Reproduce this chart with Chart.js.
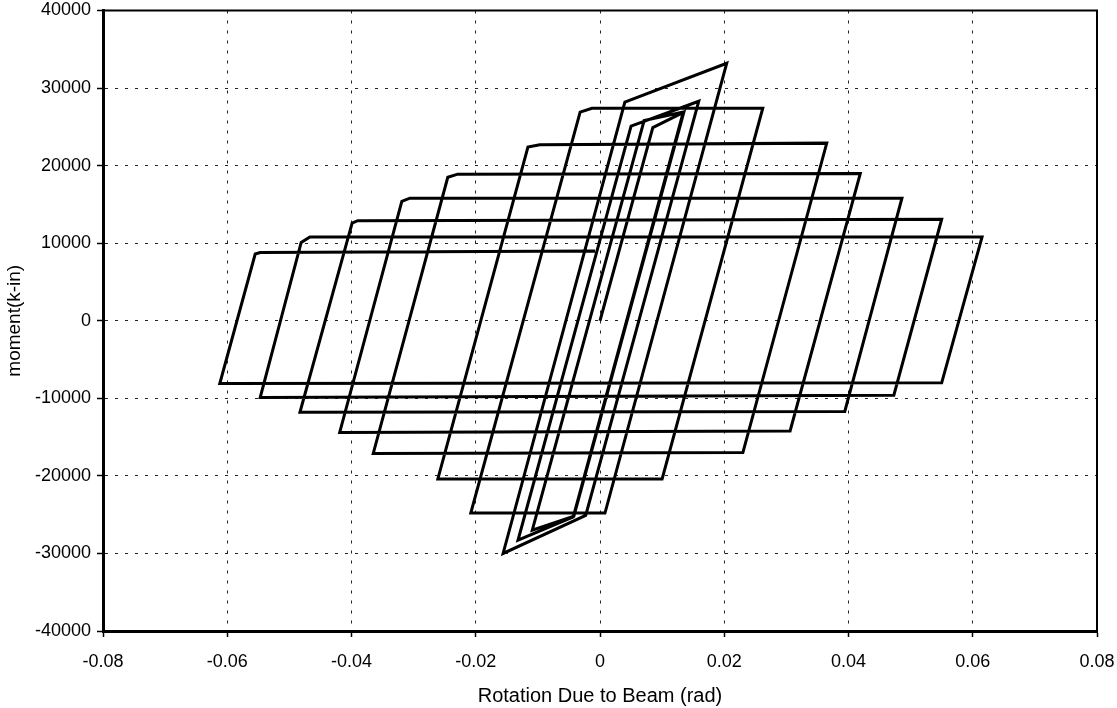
<!DOCTYPE html>
<html>
<head>
<meta charset="utf-8">
<script src="https://cdn.jsdelivr.net/npm/chart.js@4/dist/chart.umd.min.js"></script>
<style>
  html, body { margin: 0; padding: 0; background: #fff; }
  #wrap { width: 1117px; height: 708px; }
</style>
</head>
<body>
<div id="wrap"><canvas id="loopChart"></canvas></div>
<script>
// hysteresis path
const rotation = [
    0, 0.0085, 0.0135, -0.0042, -0.0109, 0.0071, 0.0134, -0.0043, -0.0132,
    0.0050, 0.0159, -0.0023, -0.0156, 0.0040, 0.0204, 0.0008, -0.0208,
    -0.0032, -0.0013, 0.0262, 0.0100, -0.0261, -0.0116, -0.0097, 0.0365,
    0.0230, -0.0365, -0.0245, -0.0229, 0.0419, 0.0306, -0.0419, -0.0319,
    -0.0306, 0.0486, 0.0394, -0.0483, -0.0399, -0.0390, 0.0550, 0.0473,
    -0.0547, -0.0481, -0.0467, 0.0615, 0.0550, -0.0612, -0.0555, -0.0547,
    -0.0008
];
const moment = [
    0, 24900, 26900, -25200, -27000, 25800, 26900, -25300, -28300,
    25100, 28300, -25100, -30000, 28200, 33200, -24800, -24800,
    26900, 27400, 27400, -20400, -20400, 22400, 22700, 22900,
    -17000, -17100, 18500, 18900, 19000, -14200, -14400, 15400,
    15800, 15800, -11700, -11800, 12600, 12900, 13100, -9600,
    -9900, 10100, 10800, 10800, -8000, -8100, 8600, 8800,
    9000
];

const xTicks = [-0.08, -0.06, -0.04, -0.02, 0, 0.02, 0.04, 0.06, 0.08];
const yTicks = [-40000, -30000, -20000, -10000, 0, 10000, 20000, 30000, 40000];

const points = rotation.map((r, i) => ({ x: r, y: moment[i] }));

const FONT = '"Liberation Sans", Arial, Helvetica, sans-serif';

// frame round the plot area (top and right edges too)
const framePlugin = {
    id: 'frame',
    afterDraw(chart) {
        const a = chart.chartArea;
        const ctx = chart.ctx;
        ctx.save();
        ctx.strokeStyle = '#000';
        ctx.lineWidth = 2;
        ctx.strokeRect(a.left, a.top, a.right - a.left, a.bottom - a.top);
        ctx.restore();
    }
};

const ctx = document.getElementById('loopChart').getContext('2d');
new Chart(ctx, {
    type: 'scatter',
    data: {
        datasets: [{
            data: points,
            showLine: true,
            borderColor: '#000',
            borderWidth: 3,
            pointRadius: 0,
            tension: 0,
            fill: false
        }]
    },
    options: {
        responsive: true,
        maintainAspectRatio: false,
        animation: false,
        layout: { padding: { top: 0, right: 0, left: 0, bottom: 0 } },
        plugins: {
            legend: { display: false },
            tooltip: { enabled: false }
        },
        scales: {
            x: {
                type: 'linear',
                min: -0.08,
                max: 0.08,
                afterBuildTicks: (scale) => { scale.ticks = xTicks.map(v => ({ value: v })); },
                afterFit: (scale) => {
                    scale.height = 77;
                    scale.paddingRight = 20;  // let "0.08" hang past the frame like the original
                },
                ticks: {
                    color: '#000',
                    font: { family: FONT, size: 18 },
                    padding: 14,
                    maxRotation: 0,
                    callback: (value) => String(Number(value.toFixed(2)))
                },
                grid: {
                    color: '#222',
                    lineWidth: 1,
                    tickColor: '#000',
                    tickLength: 6,
                    tickWidth: 1.5
                },
                border: { display: true, color: '#000', width: 3, dash: [3, 7] },
                title: {
                    display: true,
                    text: 'Rotation Due to Beam (rad)',
                    color: '#000',
                    font: { family: FONT, size: 20 },
                    padding: { top: 4, bottom: 0 }
                }
            },
            y: {
                type: 'linear',
                min: -40000,
                max: 40000,
                afterBuildTicks: (scale) => { scale.ticks = yTicks.map(v => ({ value: v })); },
                afterFit: (scale) => { scale.width = 103; },
                ticks: {
                    color: '#000',
                    font: { family: FONT, size: 18, lineHeight: 0.5 },
                    padding: 6,
                    callback: (value) => String(value)
                },
                grid: {
                    color: '#222',
                    lineWidth: 1,
                    tickColor: '#000',
                    tickLength: 6,
                    tickWidth: 1.5
                },
                border: { display: true, color: '#000', width: 3, dash: [3, 7] },
                title: {
                    display: true,
                    text: 'moment(k-in)',
                    color: '#000',
                    font: { family: FONT, size: 19 },
                    padding: { top: 3, bottom: 0 }
                }
            }
        }
    },
    plugins: [framePlugin]
});
</script>
</body>
</html>
